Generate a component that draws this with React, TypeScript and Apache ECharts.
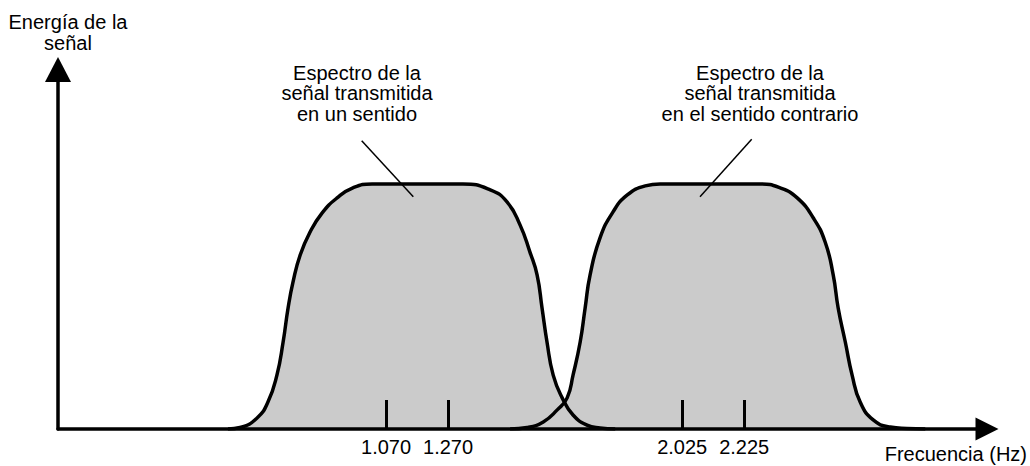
import React, { useEffect, useRef } from "react";
import * as echarts from "echarts";

// Frequency tick marks (Hz) and their printed labels
const tickValues = [1070, 1270, 2025, 2225];
const tickLabels = ["1.070", "1.270", "2.025", "2.225"];

// Spectrum of the signal transmitted in one direction (Hz, relative energy)
const spectrum1Freq = [560, 599, 654, 689, 718, 738, 754, 770, 793, 825, 864, 912, 963, 1025, 1164, 1318, 1406, 1460, 1502, 1534, 1557, 1573, 1589, 1609, 1638, 1673, 1718, 1760, 1809];
const spectrum1Energy = [0, 0.6, 4.5, 11.0, 22.0, 35.5, 49.4, 60.0, 71.0, 80.4, 88.2, 94.3, 98.4, 100, 100, 100, 97.6, 92.7, 83.3, 72.2, 62.9, 49.4, 35.5, 22.0, 12.7, 5.7, 1.6, 0.4, 0];

// Spectrum of the signal transmitted in the opposite direction
const spectrum2Freq = [1470, 1525, 1577, 1622, 1654, 1673, 1696, 1712, 1728, 1760, 1802, 1848, 1906, 1954, 2119, 2276, 2341, 2396, 2448, 2486, 2512, 2528, 2551, 2573, 2599, 2641, 2696, 2750, 2809];
const spectrum2Energy = [0, 0.6, 2.9, 7.8, 12.7, 22.0, 35.5, 49.4, 62.9, 78.0, 88.6, 95.5, 99.2, 100, 100, 100, 98.4, 94.3, 86.1, 76.3, 62.9, 49.4, 35.5, 22.0, 11.0, 3.7, 0.8, 0.2, 0];

const yAxisTitle = "Energía de la\nseñal";
const xAxisTitle = "Frecuencia (Hz)";
const note1 = "Espectro de la\nseñal transmitida\nen un sentido";
const note2 = "Espectro de la\nseñal transmitida\nen el sentido contrario";

const FONT = '"Liberation Sans", Arial, Helvetica, sans-serif';
const FILL = "#cbcbcb";

function pairs(xs: number[], ys: number[]) {
  return xs.map((x, i) => [x, ys[i]]);
}

export default function App() {
  const ref = useRef<HTMLDivElement>(null);

  useEffect(() => {
    if (!ref.current) return;
    const chart = echarts.init(ref.current, undefined, { renderer: "svg" });
    const s1 = pairs(spectrum1Freq, spectrum1Energy);
    const s2 = pairs(spectrum2Freq, spectrum2Energy);

    const lineBase = {
      type: "line",
      smooth: 0.5,
      symbol: "none",
      silent: true,
    };

    chart.setOption({
      animation: false,
      backgroundColor: "#ffffff",
      textStyle: { fontFamily: FONT },
      grid: { left: 58, right: 43, top: 69.5, bottom: 37 },
      xAxis: {
        type: "value",
        min: 12,
        max: 3008,
        z: 10,
        splitLine: { show: false },
        axisLine: {
          show: true,
          symbol: ["none", "triangle"],
          symbolSize: [23, 23],
          lineStyle: { color: "#000", width: 3.5 },
        },
        axisTick: {
          show: true,
          inside: true,
          length: 29,
          customValues: tickValues,
          lineStyle: { color: "#000", width: 3 },
        },
        axisLabel: {
          show: true,
          customValues: tickValues,
          margin: 8,
          color: "#000",
          fontSize: 20,
          fontFamily: FONT,
          formatter: (v: number) => {
            const i = tickValues.indexOf(v);
            return i >= 0 ? tickLabels[i] : "";
          },
        },
      },
      yAxis: {
        type: "value",
        min: 0,
        max: 146.7,
        z: 10,
        splitLine: { show: false },
        axisTick: { show: false },
        axisLabel: { show: false },
        axisLine: {
          show: true,
          onZero: false,
          symbol: ["none", "triangle"],
          symbolSize: [26, 25],
          lineStyle: { color: "#000", width: 3.5 },
        },
      },
      series: [
        { ...lineBase, z: 1, data: s1, lineStyle: { width: 0 }, areaStyle: { color: FILL, opacity: 1 } },
        { ...lineBase, z: 1, data: s2, lineStyle: { width: 0 }, areaStyle: { color: FILL, opacity: 1 } },
        { ...lineBase, z: 3, data: s1, lineStyle: { color: "#000", width: 3.5 } },
        { ...lineBase, z: 3, data: s2, lineStyle: { color: "#000", width: 3.5 } },
      ],
      graphic: [
        {
          type: "text",
          x: 68,
          y: 32,
          style: {
            text: yAxisTitle,
            font: `20px ${FONT}`,
            fill: "#000",
            align: "center",
            verticalAlign: "middle",
            lineHeight: 21,
          },
        },
        {
          type: "text",
          x: 1027,
          y: 454,
          style: {
            text: xAxisTitle,
            font: `20px ${FONT}`,
            fill: "#000",
            align: "right",
            verticalAlign: "middle",
          },
        },
        {
          type: "text",
          x: 357,
          y: 93,
          style: {
            text: note1,
            font: `20px ${FONT}`,
            fill: "#000",
            align: "center",
            verticalAlign: "middle",
            lineHeight: 20.5,
          },
        },
        {
          type: "text",
          x: 760,
          y: 93,
          style: {
            text: note2,
            font: `20px ${FONT}`,
            fill: "#000",
            align: "center",
            verticalAlign: "middle",
            lineHeight: 20.5,
          },
        },
        {
          type: "line",
          z: 20,
          shape: { x1: 361.7, y1: 140.7, x2: 413.3, y2: 196.7 },
          style: { stroke: "#000", lineWidth: 1.5 },
        },
        {
          type: "line",
          z: 20,
          shape: { x1: 751.7, y1: 139.3, x2: 700, y2: 196.7 },
          style: { stroke: "#000", lineWidth: 1.5 },
        },
      ],
    });

    return () => chart.dispose();
  }, []);

  return (
    <div
      ref={ref}
      style={{ position: "fixed", left: 0, top: 0, width: 1030, height: 466, background: "#fff" }}
    />
  );
}
